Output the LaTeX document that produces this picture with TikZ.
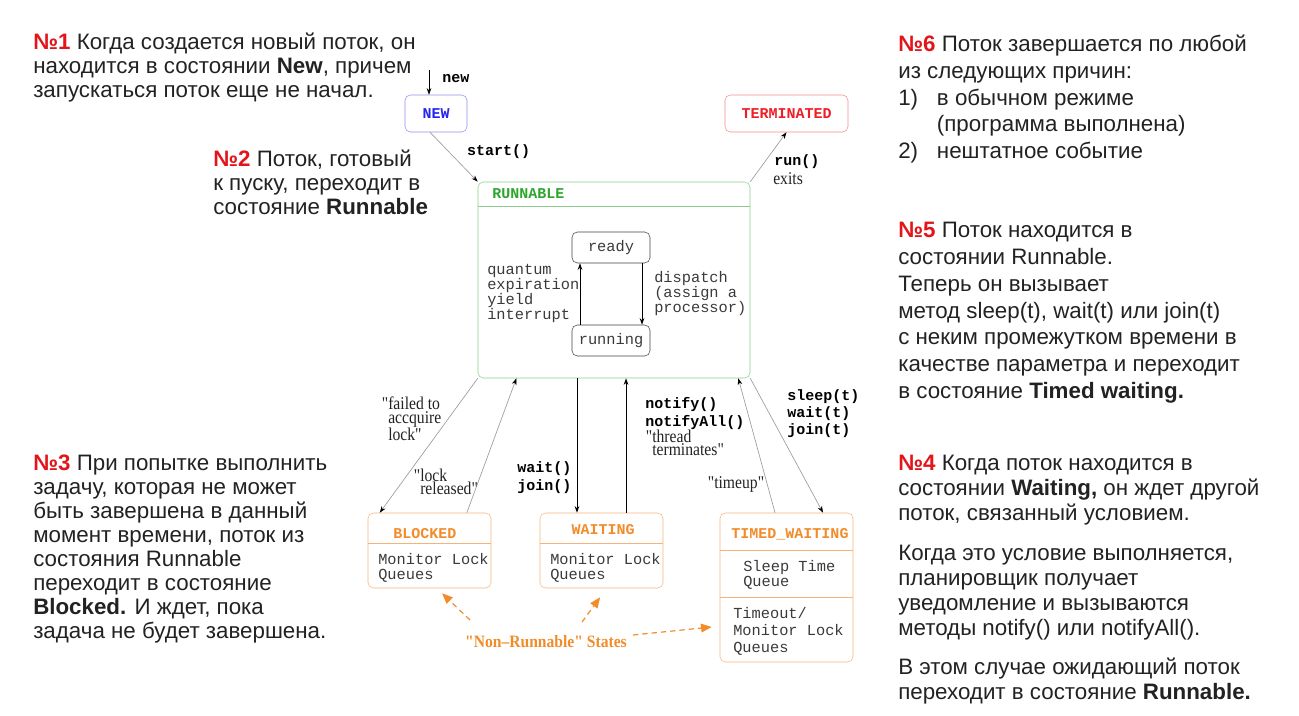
\documentclass[tikz,border=0pt]{standalone}
\usepackage{fontspec}
\setmainfont{Liberation Sans}
\setmonofont{Liberation Mono}
\newfontfamily\lblserif[FakeStretch=0.87]{Liberation Serif}
\newfontfamily\nrserif[FakeStretch=0.9]{Liberation Serif}
\usetikzlibrary{positioning,calc,arrows.meta}

\definecolor{numred}{HTML}{E3151B}
\definecolor{txtdark}{HTML}{222222}
\definecolor{codegray}{HTML}{3A3A3A}
\definecolor{newblue}{HTML}{2626F0}
\definecolor{newedge}{HTML}{8E8EF2}
\definecolor{termred}{HTML}{EE1E26}
\definecolor{termedge}{HTML}{F38A8E}
\definecolor{rungreen}{HTML}{2DA62D}
\definecolor{runedge}{HTML}{8CCB8C}
\definecolor{waitorange}{HTML}{F28C2A}
\definecolor{waitedge}{HTML}{F5B27A}
\definecolor{linegray}{HTML}{9C9C9C}

\newcommand{\nr}[1]{\textcolor{numred}{\textbf{№#1}}}
\newcommand{\notefont}{\fontsize{16.75}{18}\selectfont}
\newcommand{\codefont}{\ttfamily\fontsize{11.5}{11.25}\selectfont}
\newcommand{\callfont}{\ttfamily\bfseries\fontsize{11.25}{13.5}\selectfont}
\newcommand{\quotefont}{\lblserif\fontsize{13.5}{9.8}\selectfont}

\begin{document}
\begin{tikzpicture}[x=0.75pt, y=-0.75pt,
  note/.style = {anchor=north west, align=left, inner sep=0pt, text=txtdark},
  statebox/.style = {draw, rounded corners=4pt, minimum width=#1, inner sep=0pt},
  head/.style = {font=\callfont, inner sep=0pt},
  code/.style = {anchor=north west, align=left, inner sep=0pt, font=\codefont, text=codegray},
  call/.style = {anchor=north west, align=left, inner sep=0pt, font=\callfont, text=black},
  quote/.style = {anchor=north west, align=left, inner sep=0pt, font=\quotefont, text=txtdark},
  thin/.style = {draw=linegray, line width=0.5pt, -{Stealth[length=5pt, width=3.5pt, color=black]}},
  thick/.style = {draw=black, line width=0.7pt, -{Stealth[length=5pt, width=3.5pt]}},
  dasharr/.style = {draw=waitorange, line width=0.9pt, dash pattern=on 4pt off 3pt, -{Triangle[length=8pt, width=6.5pt]}}]

\useasboundingbox (0,0) rectangle (1299,715);

% explanations
\node[note, font=\notefont] (n1) at (33,33)
  {\nr{1} Когда создается новый поток, он\\находится в состоянии \textbf{New}, причем\\запускаться поток еще не начал.};
\node[note, font=\notefont] (n2) at (213,150)
  {\nr{2} Поток, готовый\\к пуску, переходит в\\состояние \textbf{Runnable}};
\node[note, font=\notefont] (n3) at (33,455)
  {\nr{3} При попытке выполнить\\задачу, которая не может\\быть завершена в данный\\момент времени, поток из\\состояния Runnable\\переходит в состояние\\\textbf{Blocked.} И ждет, пока\\задача не будет завершена.};
\node[note, font=\fontsize{16.75}{20}\selectfont] (n6) at (898,35)
  {\nr{6} Поток завершается по любой\\из следующих причин:\\\makebox[29pt][l]{1)}в обычном режиме\\\hspace*{29pt}(программа выполнена)\\\makebox[29pt][l]{2)}нештатное событие};
\node[note, font=\fontsize{16.75}{20.1}\selectfont] (n5) at (898,222)
  {\nr{5} Поток находится в\\состоянии Runnable.\\Теперь он вызывает\\метод sleep(t), wait(t) или join(t)\\с неким промежутком времени в\\качестве параметра и переходит\\в состояние \textbf{Timed waiting.}};
\node[note, font=\fontsize{16.75}{18.7}\selectfont] (n4) at (898,455)
  {\nr{4} Когда поток находится в\\состоянии \textbf{Waiting,} он ждет другой\\поток, связанный условием.\\[11.5pt]Когда это условие выполняется,\\планировщик получает\\уведомление и вызываются\\методы notify() или notifyAll().\\[10.5pt]В этом случае ожидающий поток\\переходит в состояние \textbf{Runnable.}};

% states
\node[statebox=46.5pt, minimum height=27.75pt, draw=newedge, head, text=newblue] (new) at (436,113.5) {NEW};
\node[statebox=92.25pt, minimum height=27.75pt, draw=termedge, head, text=termred] (term) at (786.5,113.5) {TERMINATED};
\node[statebox=204pt, minimum height=147pt, draw=runedge] (runnable) at (614,280) {};
\node[head, anchor=west, text=rungreen] (runlbl) at (492,194) {RUNNABLE};
\draw[runedge] (runnable.west |- 0,206) -- (runnable.east |- 0,206);
\node[statebox=58.5pt, minimum height=23.25pt, draw=black!75, font=\codefont, text=codegray] (ready) at (611,247.5) {ready};
\node[statebox=58.5pt, minimum height=23.25pt, draw=black!75, font=\codefont, text=codegray] (running) at (611,340.5) {running};

\node[statebox=92.25pt, minimum height=56.25pt, draw=waitedge] (blocked) at (429.5,550.5) {};
\node[head, text=waitorange] (blockedlbl) at (425,533.5) {BLOCKED};
\draw[waitedge] (blocked.west |- 0,543) -- (blocked.east |- 0,543);
\node[code] (blockedq) at (378,553) {Monitor Lock\\Queues};

\node[statebox=92.25pt, minimum height=56.25pt, draw=waitedge] (waiting) at (601.5,550.5) {};
\node[head, text=waitorange] (waitinglbl) at (603,529.5) {WAITING};
\draw[waitedge] (waiting.west |- 0,543) -- (waiting.east |- 0,543);
\node[code] (waitingq) at (550,553) {Monitor Lock\\Queues};

\node[statebox=99.75pt, minimum height=111.75pt, draw=waitedge] (timed) at (786.5,587.5) {};
\node[head, text=waitorange] (timedlbl) at (790,534) {TIMED\_WAITING};
\draw[waitedge] (timed.west |- 0,550) -- (timed.east |- 0,550);
\draw[waitedge] (timed.west |- 0,597) -- (timed.east |- 0,597);
\node[code] (sleepq) at (743,560) {Sleep Time\\Queue};
\node[code, font=\ttfamily\fontsize{11.5}{12.75}\selectfont] (timeoutq) at (733,607) {Timeout/\\Monitor Lock\\Queues};

% transitions
\coordinate (newtop) at (429,70);
\draw[thick, line width=0.5pt] (newtop) -- (newtop |- new.north);
\node[call, anchor=west] (newcall) at (442,79) {new};

\draw[thin] ([xshift=-4.5pt]new.south) -- (runnable.north west);
\node[call, anchor=center] (startcall) at (498.5,152) {start()};

\draw[thin] (runnable.north east) -- (term.south);
\node[call, anchor=west] (runcall) at (774,162) {run()};
\node[quote, anchor=west] (exits) at (773,179) {exits};

\draw[thick] ([xshift=-23.25pt]running.north) -- ([xshift=-23.25pt]ready.south);
\draw[thick] ([xshift=23.25pt]ready.south) -- ([xshift=23.25pt]running.north);
\node[code] (quantum) at (487,264) {quantum\\expiration\\yield\\interrupt};
\node[code] (dispatch) at (654,271) {dispatch\\(assign a\\processor)};

\draw[thin] (runnable.south west) -- ([xshift=9pt]blocked.north west);
\node[quote] (failed) at (388,397) {\llap{"}failed to\\accquire\\lock"};
\draw[thin] ([xshift=28pt]blocked.north) -- ([xshift=29pt]runnable.south west);
\node[quote] (released) at (420,469) {\llap{"}lock\\released"};

\coordinate (wdown) at ([xshift=-18.4pt]waiting.north);
\coordinate (wup) at ([xshift=18.4pt]waiting.north);
\draw[thick] (wdown |- runnable.south) -- (wdown);
\draw[thick] (wup) -- (wup |- runnable.south);
\node[call] (waitcall) at (517,461) {wait()\\join()};
\node[call] (notifycall) at (645,397) {notify()\\notifyAll()};
\node[quote] (threadterm) at (652,430) {\llap{"}thread\\terminates"};

\draw[thin] ([xshift=-8.6pt]timed.north) -- ([xshift=-9pt]runnable.south east);
\node[quote, anchor=center] (timeup) at (736,484) {"timeup"};
\draw[thin] (runnable.south east) -- ([xshift=27.4pt]timed.north);
\node[call, font=\ttfamily\bfseries\fontsize{11.25}{13}\selectfont] (sleepcall) at (787,389) {sleep(t)\\wait(t)\\join(t)};

% non-runnable group
\node[font=\nrserif\bfseries\fontsize{13}{15}\selectfont, text=waitorange, inner sep=0pt] (nonrun) at (546,642) {"Non–Runnable" States};
\coordinate (d1) at (470,620);
\coordinate (d2) at (582,622);
\coordinate (d3) at (633,635);
\draw[dasharr] (d1) -- ([xshift=9.4pt, yshift=-3.75pt]blocked.south);
\draw[dasharr] (d2) -- ([xshift=-1pt, yshift=-6.75pt]waiting.south);
\draw[dasharr] (d3) -- ([xshift=-6pt, yshift=-29.6pt]timed.west);
\end{tikzpicture}
\end{document}
